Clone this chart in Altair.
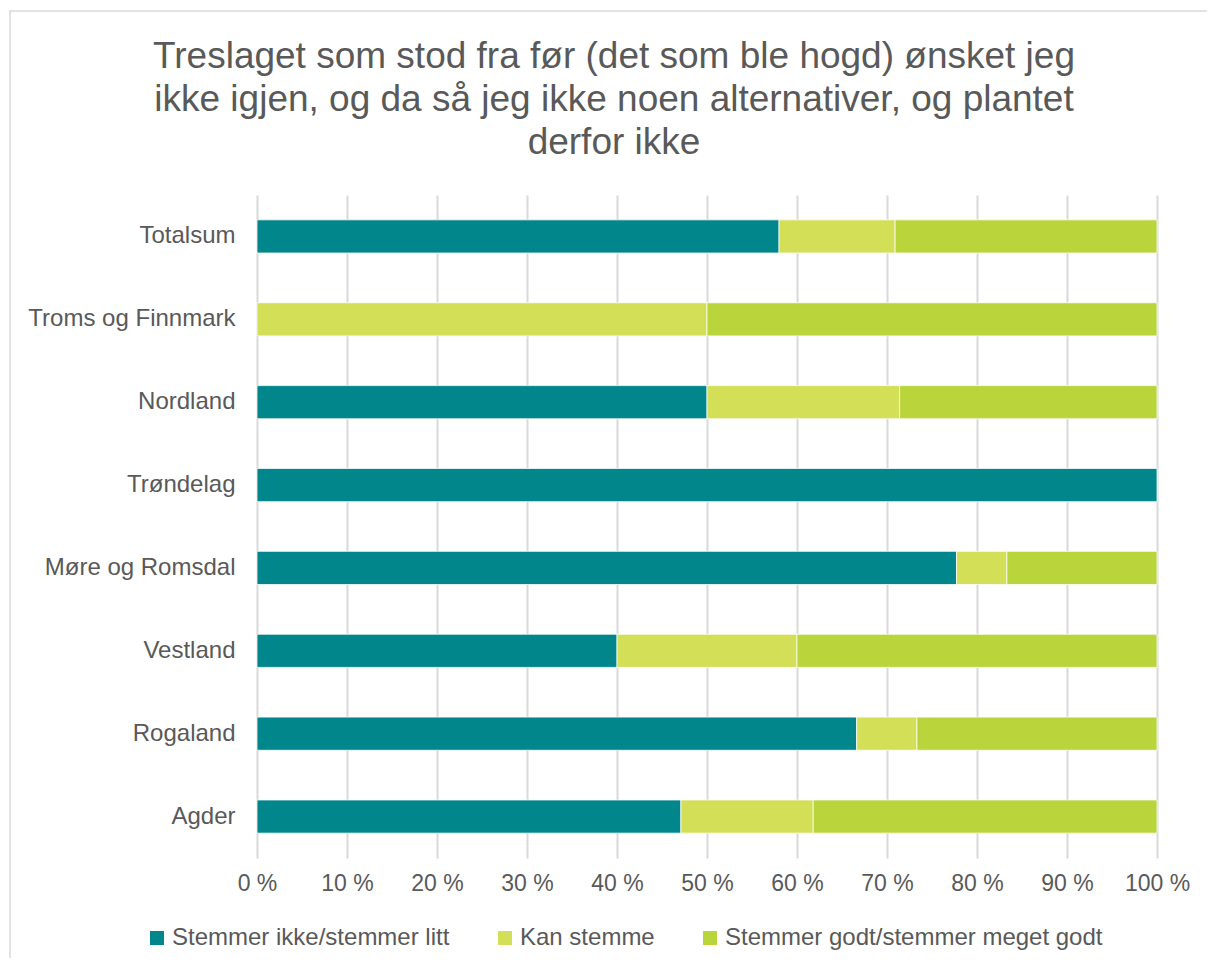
import altair as alt
import pandas as pd

regions = ["Totalsum", "Troms og Finnmark", "Nordland", "Trøndelag",
           "Møre og Romsdal", "Vestland", "Rogaland", "Agder"]
ikke = [58.0, 0.0, 50.0, 100.0, 77.8, 40.0, 66.7, 47.1]
kan = [12.9, 50.0, 21.4, 0.0, 5.6, 20.0, 6.7, 14.7]
godt = [29.1, 50.0, 28.6, 0.0, 16.7, 40.0, 26.7, 38.2]
series = ["Stemmer ikke/stemmer litt", "Kan stemme", "Stemmer godt/stemmer meget godt"]
colors = ["#00868B", "#D4DF58", "#B9D53B"]
ticks = [0, 0.1, 0.2, 0.3, 0.4, 0.5, 0.6, 0.7, 0.8, 0.9, 1.0]
title_lines = ["Treslaget som stod fra før (det som ble hogd) ønsket jeg",
               "ikke igjen, og da så jeg ikke noen alternativer, og plantet",
               "derfor ikke"]

rows = []
for i, r in enumerate(regions):
    for j, (s, vals) in enumerate(zip(series, [ikke, kan, godt])):
        if vals[i] > 0:
            rows.append({"region": r, "serie": s, "ord": j, "value": vals[i]})
df = pd.DataFrame(rows)

FONT = "Liberation Sans"
GREY = "#595959"

bars = alt.Chart(df).mark_bar(stroke="white", strokeWidth=0.75).encode(
    y=alt.Y("region:N", sort=regions,
            scale=alt.Scale(paddingInner=0.6, paddingOuter=0.3),
            axis=alt.Axis(title=None, ticks=False, domain=False, grid=False,
                          labelFontSize=24, labelColor=GREY, labelFont=FONT,
                          labelPadding=22, labelLimit=400)),
    x=alt.X("value:Q", stack="normalize",
            scale=alt.Scale(domain=[0, 1], nice=False),
            axis=alt.Axis(title=None, values=ticks, ticks=False, domain=False,
                          grid=True, gridColor="#D9D9D9", gridWidth=2,
                          labelExpr="format(datum.value*100,'.0f') + ' %'",
                          labelOverlap=False, labelFlush=False,
                          labelFontSize=23, labelColor=GREY, labelFont=FONT,
                          labelPadding=14)),
    color=alt.Color("serie:N", sort=series,
                    scale=alt.Scale(domain=series, range=colors),
                    legend=alt.Legend(orient="none", legendX=-112, legendY=731,
                                      direction="horizontal", columns=3,
                                      title=None, symbolType="square",
                                      symbolSize=196, symbolStrokeWidth=0,
                                      labelFontSize=24, labelColor=GREY,
                                      labelFont=FONT, labelOffset=3,
                                      columnPadding=43, labelLimit=600)),
    order=alt.Order("ord:Q"),
)

border = alt.Chart(alt.Data(values=[{}])).mark_rect(
    fill="transparent", stroke="#D9D9D9", strokeWidth=1.5
).encode(x=alt.value(-247), x2=alt.value(990), y=alt.value(-184), y2=alt.value(800))

title = alt.Chart(alt.Data(values=[{}])).mark_text(
    font=FONT, fontSize=37, color=GREY, align="center", baseline="alphabetic",
    lineHeight=43
).encode(x=alt.value(357), y=alt.value(-127), text=alt.value(title_lines))

chart = alt.layer(border, bars, title).properties(
    width=900, height=663,
    autosize=alt.AutoSizeParams(type="none"),
    padding={"left": 249, "top": 187, "right": 50, "bottom": 100},
).configure_view(strokeWidth=0)

chart.save("out.html", embed_options={"renderer": "svg", "actions": False})
